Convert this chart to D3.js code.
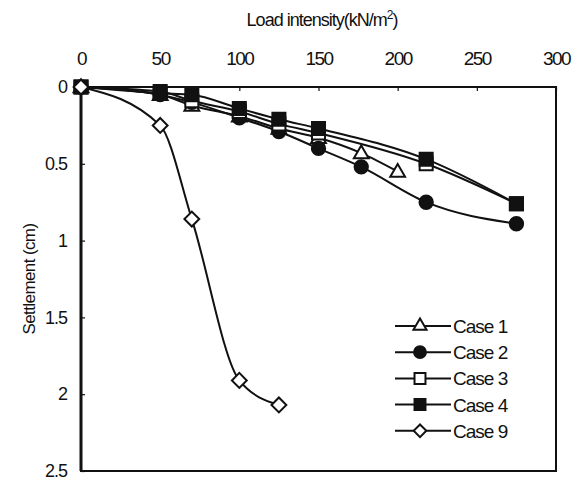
<!DOCTYPE html>
<html>
<head>
<meta charset="utf-8">
<script src="https://cdn.jsdelivr.net/npm/d3@7"></script>
<style>
  body { margin: 0; background: #fff; }
  text { font-family: "Liberation Sans", Arial, sans-serif; fill: #111; }
</style>
</head>
<body>
<div id="chart"></div>
<script>
// Load intensity (kN/m2) vs settlement (cm)
var case1X = [0, 50, 70, 100, 125, 150, 177, 200];
var case1Y = [0, 0.05, 0.12, 0.19, 0.27, 0.33, 0.43, 0.55];
var case2X = [0, 50, 70, 100, 125, 150, 177, 218, 275];
var case2Y = [0, 0.05, 0.1, 0.2, 0.29, 0.4, 0.52, 0.75, 0.89];
var case3X = [0, 50, 70, 100, 125, 150, 218, 275];
var case3Y = [0, 0.03, 0.09, 0.16, 0.24, 0.3, 0.5, 0.76];
var case4X = [0, 50, 70, 100, 125, 150, 218, 275];
var case4Y = [0, 0.04, 0.05, 0.14, 0.21, 0.27, 0.47, 0.76];
var case9X = [0, 50, 70, 100, 125];
var case9Y = [0, 0.25, 0.86, 1.91, 2.07];

var xTicks = [0, 50, 100, 150, 200, 250, 300];
var yTicks = [0, 0.5, 1, 1.5, 2, 2.5];

var series = [
  { name: "Case 1", x: case1X, y: case1Y, shape: "triangle", fill: "#fff" },
  { name: "Case 2", x: case2X, y: case2Y, shape: "circle", fill: "#111" },
  { name: "Case 3", x: case3X, y: case3Y, shape: "square", fill: "#fff" },
  { name: "Case 4", x: case4X, y: case4Y, shape: "square", fill: "#111" },
  { name: "Case 9", x: case9X, y: case9Y, shape: "diamond", fill: "#fff" }
];

var width = 574, height = 482;
var margin = { top: 87, right: 18, bottom: 11, left: 81 };

var svg = d3.select("#chart").append("svg")
  .attr("width", width)
  .attr("height", height);

var x = d3.scaleLinear().domain([0, 300]).range([margin.left, width - margin.right]);
var y = d3.scaleLinear().domain([0, 2.5]).range([margin.top, height - margin.bottom]);

// frame
svg.append("rect")
  .attr("x", x(0)).attr("y", y(0))
  .attr("width", x(300) - x(0)).attr("height", y(2.5) - y(0))
  .attr("fill", "none").attr("stroke", "#111").attr("stroke-width", 2);
svg.append("line")
  .attr("x1", x(0)).attr("x2", x(0)).attr("y1", y(0)).attr("y2", y(2.5))
  .attr("stroke", "#111").attr("stroke-width", 3);

// top axis
var xAxis = svg.append("g")
  .attr("transform", "translate(0," + y(0) + ")")
  .call(d3.axisTop(x).tickValues(xTicks).tickSize(-4).tickPadding(22));
xAxis.select(".domain").remove();
xAxis.selectAll("line").attr("stroke", "#111").attr("stroke-width", 1.2);
xAxis.selectAll("text").attr("font-size", 19).style("letter-spacing", "-1.5px");

// left axis
var yAxis = svg.append("g")
  .attr("transform", "translate(" + x(0) + ",0)")
  .call(d3.axisLeft(y).tickValues(yTicks).tickSize(-4).tickPadding(14)
    .tickFormat(d3.format("")));
yAxis.select(".domain").remove();
yAxis.selectAll("line").attr("stroke", "#111").attr("stroke-width", 1.2);
yAxis.selectAll("text").attr("font-size", 18).style("letter-spacing", "-1px");

// titles
var xt = svg.append("text")
  .attr("x", 322).attr("y", 26)
  .attr("text-anchor", "middle")
  .attr("font-size", 18)
  .style("letter-spacing", "-1px");
xt.append("tspan").text("Load intensity(kN/m");
xt.append("tspan").attr("font-size", 12).attr("dy", -7).text("2");
xt.append("tspan").attr("dy", 7).text(")");

svg.append("text")
  .attr("transform", "translate(35,279) rotate(-90)")
  .attr("text-anchor", "middle")
  .attr("font-size", 17)
  .style("letter-spacing", "-0.6px")
  .text("Settlement (cm)");

var symbols = {
  triangle: d3.symbol().type(d3.symbolTriangle).size(95),
  circle: d3.symbol().type(d3.symbolCircle).size(140),
  square: d3.symbol().type(d3.symbolSquare).size(170),
  diamond: d3.symbol().type(d3.symbolSquare).size(110)
};
var legendSymbols = {
  triangle: d3.symbol().type(d3.symbolTriangle).size(75),
  circle: d3.symbol().type(d3.symbolCircle).size(110),
  square: d3.symbol().type(d3.symbolSquare).size(120),
  diamond: d3.symbol().type(d3.symbolSquare).size(80)
};

var line = d3.line()
  .x(function (d) { return x(d[0]); })
  .y(function (d) { return y(d[1]); })
  .curve(d3.curveMonotoneX);

var plot = svg.append("g");

series.forEach(function (s) {
  var pts = s.x.map(function (v, i) { return [v, s.y[i]]; });
  plot.append("path")
    .datum(pts)
    .attr("d", line)
    .attr("fill", "none")
    .attr("stroke", "#111")
    .attr("stroke-width", 2);
});

series.forEach(function (s) {
  var pts = s.x.map(function (v, i) { return [v, s.y[i]]; });
  plot.selectAll(null)
    .data(pts)
    .enter()
    .append("path")
    .attr("d", symbols[s.shape])
    .attr("transform", function (d) {
      var t = "translate(" + x(d[0]) + "," + y(d[1]) + ")";
      if (s.shape === "diamond") t += " rotate(45)";
      if (s.shape === "triangle") t += " translate(0,1)";
      return t;
    })
    .attr("fill", s.fill)
    .attr("stroke", "#111")
    .attr("stroke-width", 2);
});

// legend
var legend = svg.append("g").attr("transform", "translate(395,326)");
series.forEach(function (s, i) {
  var g = legend.append("g").attr("transform", "translate(0," + i * 26.2 + ")");
  g.append("line")
    .attr("x1", 0).attr("x2", 56).attr("y1", 0).attr("y2", 0)
    .attr("stroke", "#111").attr("stroke-width", 2);
  g.append("path")
    .attr("d", legendSymbols[s.shape])
    .attr("transform", "translate(25,0)" + (s.shape === "diamond" ? " rotate(45)" : ""))
    .attr("fill", s.fill)
    .attr("stroke", "#111")
    .attr("stroke-width", 2);
  g.append("text")
    .attr("x", 58).attr("y", 7)
    .attr("font-size", 19)
    .style("letter-spacing", "-1px")
    .text(s.name);
});
</script>
</body>
</html>
